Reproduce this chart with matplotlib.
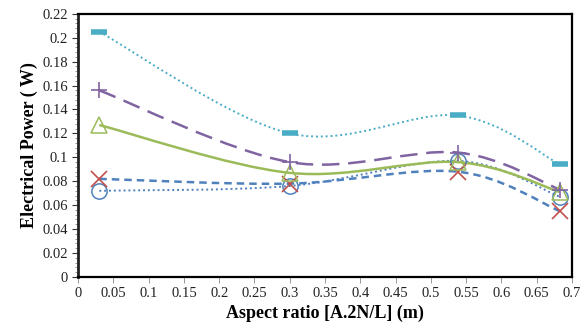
import numpy as np
import matplotlib.pyplot as plt
from matplotlib.path import Path
from matplotlib.patches import PathPatch
from matplotlib.ticker import MultipleLocator, FuncFormatter

plt.rcParams['font.family'] = ['Liberation Serif', 'DejaVu Serif']

# aspect ratio values (m)
aspect = [0.03, 0.30, 0.538, 0.683]

# electrical power (W) for each series
p_circle = [0.072, 0.076, 0.097, 0.067]
p_cross = [0.082, 0.078, 0.088, 0.055]
p_tri = [0.127, 0.087, 0.096, 0.071]
p_plus = [0.156, 0.096, 0.104, 0.073]
p_dash = [0.205, 0.120, 0.135, 0.094]

series = [
    # values, line color, line style, marker, marker color
    (p_circle, '#4F81BD', (0, (1, 1.5)), 'o', '#4F81BD'),
    (p_cross, '#4F81BD', (0, (3, 2)), 'x', '#C0504D'),
    (p_tri, '#9BBB59', '-', '^', '#9BBB59'),
    (p_plus, '#8064A2', (0, (7, 3.5)), '+', '#8064A2'),
    (p_dash, '#4BACC6', (0, (1, 1.5)), '_', '#4BACC6'),
]


def smooth_path(xv, yv):
    # Excel-like smoothed line: cubic Bezier segments with Catmull-Rom control points
    pts = np.column_stack([xv, yv]).astype(float)
    n = len(pts)
    verts = [pts[0]]
    codes = [Path.MOVETO]
    for i in range(n - 1):
        p0 = pts[max(i - 1, 0)]
        p1 = pts[i]
        p2 = pts[i + 1]
        p3 = pts[min(i + 2, n - 1)]
        c1 = p1 + (p2 - p0) / 6.0
        c2 = p2 - (p3 - p1) / 6.0
        verts += [c1, c2, p2]
        codes += [Path.CURVE4] * 3
    return Path(verts, codes)


fig = plt.figure(figsize=(5.83, 3.3), dpi=100)
ax = fig.add_axes([0.134, 0.161, 0.847, 0.797])

for vals, lc, ls, mk, mc in series:
    lw = 1.4 if ls == (0, (1, 1.5)) else 1.8
    ax.add_patch(PathPatch(smooth_path(aspect, vals), facecolor='none', edgecolor=lc,
                           linestyle=ls, lw=lw))
    if mk == '_':
        ax.plot(aspect, vals, linestyle='none', marker=mk, markersize=12, markeredgewidth=4, color=mc)
    elif mk in ('o', '^'):
        ax.plot(aspect, vals, linestyle='none', marker=mk, markersize=11, markerfacecolor='none',
                markeredgecolor=mc, markeredgewidth=1.1)
    else:
        ax.plot(aspect, vals, linestyle='none', marker=mk, markersize=12, markeredgewidth=1.2, color=mc)

ax.set_xlim(0, 0.7)
ax.set_ylim(0, 0.22)
ax.xaxis.set_major_locator(MultipleLocator(0.05))
ax.yaxis.set_major_locator(MultipleLocator(0.02))
ax.yaxis.set_minor_locator(MultipleLocator(0.004))
fmt = FuncFormatter(lambda v, p: '%g' % round(v, 3))
ax.xaxis.set_major_formatter(fmt)
ax.yaxis.set_major_formatter(fmt)
ax.tick_params(axis='both', labelsize=10.5, colors='#333333', labelcolor='#222222')
ax.tick_params(axis='y', which='major', length=4, width=0.8)
ax.tick_params(axis='y', which='minor', length=2.5, width=0.6, colors='#888888')
ax.tick_params(axis='x', which='major', length=4, width=0.6, colors='#888888', labelcolor='#222222')

for side in ['top', 'right', 'bottom']:
    ax.spines[side].set_linewidth(1.6)
    ax.spines[side].set_color('black')
ax.spines['left'].set_linewidth(2.0)
ax.spines['left'].set_color('#222222')

ax.set_xlabel('Aspect ratio [A.2N/L] (m)', fontsize=13, fontweight='bold', labelpad=3)
ax.set_ylabel('Electrical Power ( W)', fontsize=13, fontweight='bold', labelpad=3)

fig.savefig('out.png', dpi=100)
